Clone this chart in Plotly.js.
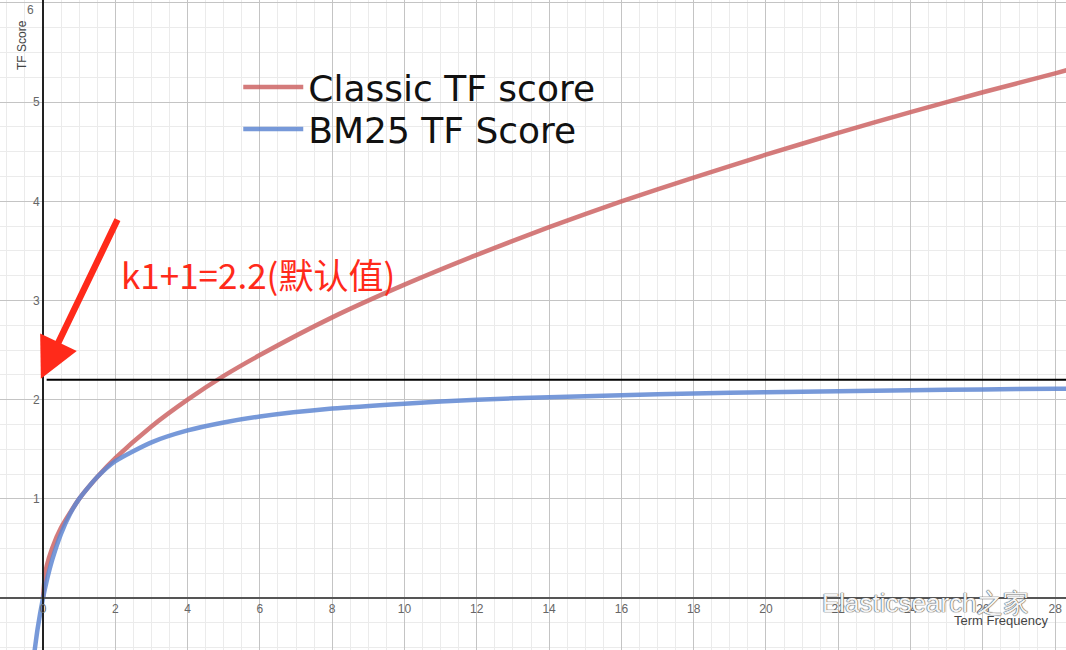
<!DOCTYPE html>
<html>
<head>
<meta charset="utf-8">
<script src="https://cdn.plot.ly/plotly-3.0.1.min.js"></script>
<style>html,body{margin:0;padding:0;background:#fff;}#chart{width:1066px;height:650px;}</style>
</head>
<body>
<div id="chart"></div>
<script>
// Term frequency samples
const classicX = [0, 0.05, 0.1, 0.25, 0.5, 1, 1.5, 2, 3, 4, 5, 6, 8, 10, 12, 14, 16, 18, 20, 22, 24, 26, 28, 28.4];
const classicY = [0, 0.22, 0.32, 0.5, 0.71, 1.0, 1.22, 1.41, 1.73, 2.0, 2.24, 2.45, 2.83, 3.16, 3.46, 3.74, 4.0, 4.24, 4.47, 4.69, 4.9, 5.1, 5.29, 5.33];
const bm25X = [-0.25, -0.15, 0, 0.1, 0.25, 0.5, 0.75, 1, 1.5, 2, 3, 4, 5, 6, 8, 10, 12, 14, 16, 18, 20, 22, 24, 26, 28, 28.4];
const bm25Y = [-0.58, -0.31, 0, 0.17, 0.38, 0.65, 0.85, 1.0, 1.22, 1.38, 1.57, 1.69, 1.77, 1.83, 1.91, 1.96, 2.0, 2.025, 2.045, 2.063, 2.075, 2.086, 2.095, 2.103, 2.11, 2.111];
const limitX = [0.1, 28.4];
const limitY = [2.2, 2.2];
const seriesNames = ["Classic TF score", "BM25 TF Score"];
const xTicks = [0, 2, 4, 6, 8, 10, 12, 14, 16, 18, 20, 22, 24, 26, 28];
const yTicks = [1, 2, 3, 4, 5, 6];
const yTickText = ["1", "2", "3", "4", "5", ""];
const topTickLabel = "6";
const annotationText = "k1+1=2.2(默认值)";
const xTitle = "Term Frequency";
const yTitle = "TF Score";
const watermark = "Elasticsearch之家";

const traces = [
  {x: classicX, y: classicY, name: seriesNames[0], mode: "lines", legend: "legend",
   line: {color: "rgba(205,100,100,0.85)", width: 4.5, shape: "spline", smoothing: 0.6}},
  {x: bm25X, y: bm25Y, name: seriesNames[1], mode: "lines", legend: "legend2",
   line: {color: "rgba(95,135,210,0.85)", width: 4.5, shape: "spline", smoothing: 0.6}},
  {x: limitX, y: limitY, mode: "lines", showlegend: false, hoverinfo: "skip",
   line: {color: "#000", width: 2}}
];

const legendFont = {family: "DejaVu Sans", size: 36, color: "#111"};
const layout = {
  width: 1066, height: 650,
  margin: {l: 0, r: 0, t: 0, b: 0, pad: 0},
  paper_bgcolor: "#fff", plot_bgcolor: "#fff",
  showlegend: true,
  legend: {x: 0.2235, y: 1 - 57/650, xanchor: "left", yanchor: "top",
           bgcolor: "rgba(0,0,0,0)", itemwidth: 60, font: legendFont},
  legend2: {x: 0.2235, y: 1 - 99/650, xanchor: "left", yanchor: "top",
           bgcolor: "rgba(0,0,0,0)", itemwidth: 60, font: legendFont},
  xaxis: {range: [-1.19, 28.30], tickvals: xTicks, showgrid: true, gridcolor: "#c4c4c4", gridwidth: 1,
          minor: {dtick: 0.5, tick0: 0, showgrid: true, gridcolor: "#ebebeb", gridwidth: 1},
          zeroline: false, showline: true, linecolor: "#555", linewidth: 2,
          anchor: "free", position: 52/650, ticks: "",
          tickfont: {family: "Liberation Sans", size: 12, color: "#666"}},
  yaxis: {range: [-0.524, 6.03], tickvals: yTicks, ticktext: yTickText, showgrid: true, gridcolor: "#c4c4c4", gridwidth: 1,
          minor: {dtick: 0.25, tick0: 0, showgrid: true, gridcolor: "#ebebeb", gridwidth: 1},
          zeroline: false, showline: true, linecolor: "#222", linewidth: 2,
          anchor: "free", position: 43/1066, ticks: "",
          tickfont: {family: "Liberation Sans", size: 12, color: "#666"}},
  annotations: [
    {x: -0.06, y: 2.21, xref: "x", yref: "y", ax: 2.08, ay: 3.83, axref: "x", ayref: "y",
     text: "", showarrow: true, arrowhead: 2, arrowsize: 1.25, arrowwidth: 6.5, arrowcolor: "#ff2a1a"},
    {x: 2.1, y: 3.27, xref: "x", yref: "y", xanchor: "left", yanchor: "middle", showarrow: false,
     text: annotationText, font: {family: "Noto Sans CJK SC", size: 35, color: "#ff2a1a"}},
    {x: 36/1066, y: 1 - 10/650, xref: "paper", yref: "paper", xanchor: "right", yanchor: "middle", showarrow: false,
     text: topTickLabel, font: {family: "Liberation Sans", size: 12, color: "#666"}},
    {x: 22/1066, y: 1 - 45/650, xref: "paper", yref: "paper", xanchor: "center", yanchor: "middle", textangle: -90, showarrow: false,
     text: yTitle, font: {family: "Liberation Sans", size: 12, color: "#444"}},
    {x: 1050/1066, y: 1 - 620/650, xref: "paper", yref: "paper", xanchor: "right", yanchor: "middle", showarrow: false,
     text: xTitle, font: {family: "Liberation Sans", size: 13, color: "#444"}},
    {x: 820/1066, y: 1 - 603/650, xref: "paper", yref: "paper", xanchor: "left", yanchor: "middle", showarrow: false,
     text: watermark, font: {family: "Liberation Sans", size: 26, color: "rgba(255,255,255,0.95)",
     shadow: "0 0 1px #555, 0 0 1px #555, 0 0 1px #555"}}
  ]
};

Plotly.newPlot("chart", traces, layout, {staticPlot: true, displayModeBar: false});
</script>
</body>
</html>
